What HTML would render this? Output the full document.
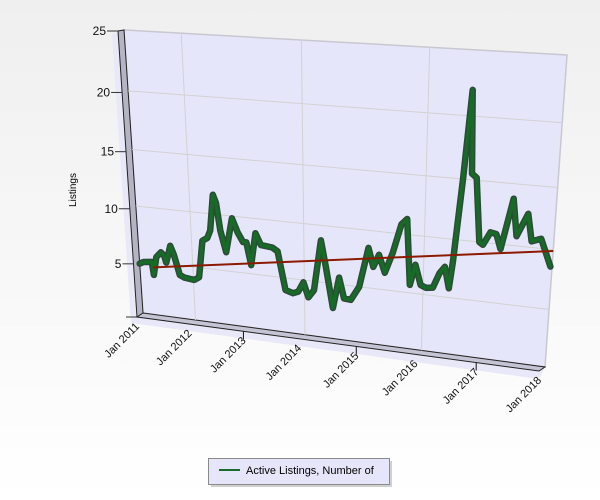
<!DOCTYPE html>
<html><head><meta charset="utf-8"><style>
html,body{margin:0;padding:0;width:600px;height:500px;overflow:hidden;background:linear-gradient(#efefef,#ffffff);}
svg{display:block;font-family:"Liberation Sans",sans-serif;}
</style></head><body>
<svg id="chart" width="600" height="500" viewBox="0 0 600 500">
<g id="walls"></g>
<g id="grid"></g>
<g id="series"></g>
<g id="axes"></g>
<text x="0" y="0" font-size="10" text-anchor="middle" transform="translate(76,190) rotate(-90)">Listings</text>
<g>
<rect x="211" y="461" width="181" height="26" fill="#b0b0b0" opacity="0.6"/>
<rect x="208.5" y="458.5" width="181" height="26" fill="#e6e6fa" stroke="#8a8a8a"/>
<line x1="219" y1="470" x2="240" y2="470" stroke="#1b6b2b" stroke-width="2"/>
<text x="246" y="474" font-size="11">Active Listings, Number of</text>
</g>
</svg>
<script>
// ---- data ----
var monthIdx = [0,0.9,2.8,3.1,3.9,5.0,5.7,6.1,7.2,7.9,9.0,10.0,12.2,13.3,14.4,15.5,16.2,17.1,17.7,18.4,19.5,21.0,22.1,23.2,23.9,24.8,25.9,27.0,29.4,30.5,32.0,33.6,34.7,35.8,36.8,38.0,39.5,40.5,41.9,43.2,44.2,45.6,47.3,49.1,50.1,51.2,52.4,53.9,55.5,56.6,57.4,58.4,59.5,60.6,61.9,63.1,64.1,65.0,65.6,66.9,68.0,68.5,69.4,70.4,71.1,72.4,73.5,74.4,76.3,77.2,79.1,80.0,81.7,83.7];
var listings = [4.7,4.9,5.0,3.8,5.5,6.0,5.7,5.1,6.7,5.9,4.1,3.9,3.8,4.1,7.5,7.8,8.5,11.7,11.0,8.6,6.7,9.8,8.6,7.8,7.8,5.8,8.7,7.7,7.6,7.3,3.9,3.7,3.9,4.8,3.5,4.2,8.7,6.4,2.8,5.6,3.8,3.75,5.0,8.5,6.9,8.0,6.5,8.3,10.8,11.3,5.7,7.5,5.8,5.6,5.7,7.0,7.6,5.8,8.1,15.05,22.0,15.5,15.2,10.0,9.8,10.9,10.8,9.6,13.8,10.8,12.7,10.5,10.8,8.6];
var trendMonths = [3,84];
var trendValues = [4.5,9.9];
var yTicks = [0,5,10,15,20,25];
var yTickLabels = ["","5","10","15","20","25"];
var xTickMonths = [0,12,24,36,48,60,72,84];
var xTickLabels = ["Jan 2011","Jan 2012","Jan 2013","Jan 2014","Jan 2015","Jan 2016","Jan 2017","Jan 2018"];
var gridMonths = [12,36,60];
var M_MAX = 84, V_MAX = 25;

// ---- homography (data -> back wall) ----
function solve(A,b){var n=b.length;for(var i=0;i<n;i++){var p=i;for(var r=i+1;r<n;r++)if(Math.abs(A[r][i])>Math.abs(A[p][i]))p=r;var t=A[i];A[i]=A[p];A[p]=t;t=b[i];b[i]=b[p];b[p]=t;for(var r=i+1;r<n;r++){var f=A[r][i]/A[i][i];for(var c=i;c<n;c++)A[r][c]-=f*A[i][c];b[r]-=f*b[i];}}var x=new Array(n);for(var i=n-1;i>=0;i--){var s=b[i];for(var c=i+1;c<n;c++)s-=A[i][c]*x[c];x[i]=s/A[i][i];}return x;}
var src=[[0,1],[1,1],[1,0],[0,0]], dst=[[124,30],[567,55],[545,367],[143,313]];
var A=[],B=[];
src.forEach(function(s,i){var u=s[0],v=s[1],X=dst[i][0],Y=dst[i][1];A.push([u,v,1,0,0,0,-u*X,-v*X]);B.push(X);A.push([0,0,0,u,v,1,-u*Y,-v*Y]);B.push(Y);});
var h=solve(A,B);
function H(m,v){var u=m/M_MAX,w=v/V_MAX;var d=h[6]*u+h[7]*w+1;return [(h[0]*u+h[1]*w+h[2])/d,(h[3]*u+h[4]*w+h[5])/d];}
function front(m,v){var p=H(m,v);return [p[0]-6,p[1]+4-3*(v/V_MAX)];}

var NS="http://www.w3.org/2000/svg";
function mk(tag,attrs,parent){var e=document.createElementNS(NS,tag);for(var k in attrs)e.setAttribute(k,attrs[k]);parent.appendChild(e);return e;}
function pts(a){return a.map(function(p){return p[0].toFixed(1)+","+p[1].toFixed(1);}).join(" ");}

var walls=document.getElementById("walls"),grid=document.getElementById("grid"),series=document.getElementById("series"),axes=document.getElementById("axes");
var TL=H(0,25),TR=H(84,25),BR=H(84,0),BL=H(0,0);
var sh=mk("polygon",{points:pts([[TL[0]-12,TL[1]+4],TL,BL,BR,[BR[0]-6,BR[1]+12],[BL[0]-12,BL[1]+10]]),fill:"#e8e8f8"},walls);


var bw=mk("polygon",{points:pts([TL,TR,BR,BL]),fill:"#e6e6fa",stroke:"#c8c8d0","stroke-width":1.5},walls);


var FTL=front(0,25),FBL=front(0,0),FBR=front(84,0);
var lw=mk("polygon",{points:pts([FTL,TL,BL,FBL]),fill:"#b4b4c4",stroke:"#222","stroke-width":1},walls);


var fl=mk("polygon",{points:pts([FBL,BL,BR,FBR]),fill:"#c4c4d4",stroke:"#222","stroke-width":1},walls);



// gridlines
yTicks.forEach(function(v){if(v===0||v===25)return;var a=H(0,v),b=H(84,v);
var g=mk("line",{x1:a[0],y1:a[1],x2:b[0],y2:b[1],stroke:"#d2d2d2","stroke-width":1},grid);

});
gridMonths.forEach(function(m){var a=H(m,25),b=H(m,0);
var g=mk("line",{x1:a[0],y1:a[1],x2:b[0],y2:b[1],stroke:"#d2d2d2","stroke-width":1},grid);

});

// series
var pp=monthIdx.map(function(m,i){return H(m,listings[i]);});
var o=mk("polyline",{points:pts(pp),fill:"none",stroke:"#2e4a38","stroke-width":6.5,"stroke-linejoin":"round","stroke-linecap":"round"},series);


var l=mk("polyline",{points:pts(pp),fill:"none",stroke:"#166b26","stroke-width":3.5,"stroke-linejoin":"round","stroke-linecap":"round"},series);


var tp=trendMonths.map(function(m,i){return H(m,trendValues[i]);});
var t=mk("polyline",{points:pts(tp),fill:"none",stroke:"#8b1a00","stroke-width":2},series);



// y axis
yTicks.forEach(function(v,i){var p=front(0,v);
var tk=mk("line",{x1:p[0]-11,y1:p[1],x2:p[0],y2:p[1],stroke:"#333","stroke-width":1},axes);


if(yTickLabels[i]){var tx=mk("text",{x:p[0]-12,y:p[1]+4,"font-size":12,"text-anchor":"end",fill:"#111"},axes);tx.textContent=yTickLabels[i];

}});

// x axis
xTickMonths.forEach(function(m,i){var p=front(m,0);
if(i%2===0&&i>0){var tk=mk("line",{x1:p[0],y1:p[1],x2:p[0],y2:p[1]+8,stroke:"#111","stroke-width":1},axes);

}
var x=p[0]+3,y=p[1]+10;
var tx=mk("text",{x:x,y:y,"font-size":11,"text-anchor":"end",fill:"#111",transform:"rotate(-45 "+x.toFixed(1)+" "+y.toFixed(1)+")"},axes);
tx.textContent=xTickLabels[i];

});
</script>
</body></html>
